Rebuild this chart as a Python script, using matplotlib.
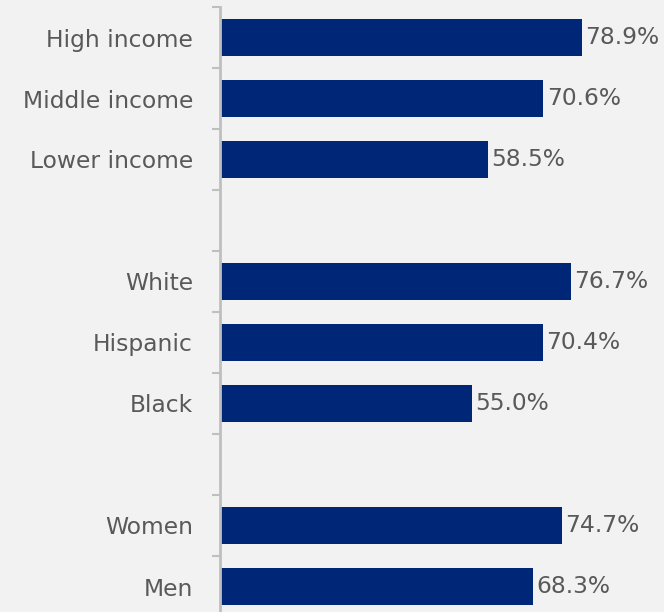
import matplotlib
matplotlib.use("Agg")
import matplotlib.pyplot as plt
import numpy as np

categories = ["High income", "Middle income", "Lower income", "",
              "White", "Hispanic", "Black", "",
              "Women", "Men"]
values = [78.9, 70.6, 58.5, None, 76.7, 70.4, 55.0, None, 74.7, 68.3]

bg = "#f2f2f2"
bar_color = "#002677"
text_color = "#595959"
axis_color = "#bfbfbf"

fig = plt.figure(figsize=(6.64, 6.12), dpi=100, facecolor=bg)
W, H = 664, 612
left_px, top_px, slot = 219.5, 7, 61
n = len(categories)
bottom_px = top_px + n * slot
ax = fig.add_axes([left_px / W, (H - bottom_px) / H, (W - left_px) / W, (bottom_px - top_px) / H])
ax.set_facecolor(bg)

px_per_unit = 362 / 78.9
ax.set_xlim(0, (W - left_px) / px_per_unit)
ax.set_ylim(n - 0.5, -0.5)

fs = 16.8
y = np.arange(n)
for i, v in enumerate(values):
    if v is None:
        continue
    ax.barh(i, v, height=0.61, color=bar_color)
    ax.text(v + 0.7, i, f"{v:.1f}%", va="center", ha="left",
            fontsize=fs, color=text_color, family="DejaVu Sans")

ax.set_yticks(y)
ax.set_yticklabels(categories, fontsize=fs, color=text_color, family="DejaVu Sans")
ax.tick_params(axis="y", which="major", length=0, pad=19)
ax.set_yticks(np.arange(n + 1) - 0.5, minor=True)
ax.tick_params(axis="y", which="minor", length=6, width=1.5, color=axis_color)
ax.set_xticks([])
for s in ["top", "right", "bottom"]:
    ax.spines[s].set_visible(False)
ax.spines["left"].set_color(axis_color)
ax.spines["left"].set_linewidth(2)

fig.savefig("out.png", dpi=100, facecolor=bg)
